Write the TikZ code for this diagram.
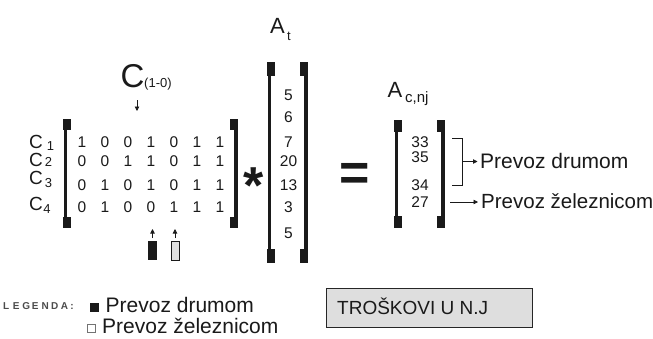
\documentclass[tikz,border=0pt]{standalone}
\usepackage{fontspec}
\setmainfont{Liberation Sans}
\usetikzlibrary{arrows.meta}
\definecolor{ink}{HTML}{1A1A1A}
\newcommand\fsz[1]{\fontsize{#1}{#1}\selectfont}
\newcommand\LBrk[4]{%
  \fill[ink] (#1,#2) rectangle ++(8,#4);
  \fill[ink] (#1,#3) rectangle ++(8,-#4);
  \fill[ink] (#1+0.5,#2) rectangle (#1+4,#3);}
\newcommand\RBrk[4]{%
  \fill[ink] (#1,#2) rectangle ++(-8,#4);
  \fill[ink] (#1,#3) rectangle ++(-8,-#4);
  \fill[ink] (#1-0.5,#2) rectangle (#1-4,#3);}
\newcommand\lsp[1]{\makebox[9.6pt][l]{#1}}
\begin{document}
\begin{tikzpicture}[x=1pt,y=-1pt,
  lbl/.style={inner sep=0pt, text=ink},
  num/.style={lbl, font=\fsz{15.5}, anchor=base},
  arr/.style={draw=ink, line width=0.8pt, -{Triangle[length=4.5pt,width=4.5pt]}},
  thinln/.style={draw=ink, line width=0.8pt},
  colmark/.style={inner sep=0pt, minimum width=9pt, minimum height=19pt, anchor=north},
]
\useasboundingbox[fill=white] (0,0) rectangle (653,338);

% ---- C(1-0) ----
\node[lbl, font=\fsz{33}, anchor=base] (cbig) at (132.5,87) {C};
\node[lbl, font=\fsz{13}, anchor=base west] (csub) at (144,87.5) {(1-0)};
\coordinate (ctop) at (137,100);
\coordinate (cbot) at (137,111);
\draw[arr] (ctop) -- (cbot);

% ---- row labels ----
\node[lbl, font=\fsz{19}, anchor=base west] (r1) at (29,148.8) {C\hspace{4pt}\raisebox{-2pt}{\fsz{13}1}};
\node[lbl, font=\fsz{19}, anchor=base west] (r2) at (29,166.8) {C\hspace{2pt}\raisebox{0pt}{\fsz{13}2}};
\node[lbl, font=\fsz{19}, anchor=base west] (r3) at (29,184.8) {C\hspace{2pt}\raisebox{-3pt}{\fsz{13}3}};
\node[lbl, font=\fsz{19}, anchor=base west] (r4) at (29,210.8) {C\hspace{0.5pt}\raisebox{-3pt}{\fsz{13}4}};

% ---- matrix C ----
\foreach \yy/\vals [count=\i] in {142/{1,0,0,1,0,1,1},161/{0,0,1,1,0,1,1},185/{0,1,0,1,0,1,1},207/{0,1,0,0,1,1,1}}{
  \foreach \v [count=\j] in \vals {
    \node[num] (m\i\j) at ({82+23*(\j-1)},\yy+5.5) {\v};
  }
}
\LBrk{63}{119}{228}{11}
\RBrk{238}{119}{228}{11}

% markers under the matrix
\node[colmark, fill=ink] (mk1) at (152.5,241) {};
\node[colmark, fill=black!12, draw=ink, line width=0.8pt, minimum width=8pt] (mk2) at (175,241) {};
\draw[arr] ([yshift=3pt]mk1.north) -- ++(0,-9);
\draw[arr] ([yshift=3pt]mk2.north) -- ++(0,-9);

% ---- star ----
\node[lbl, font=\bfseries\fsz{52}, anchor=base] (star) at (254,203) {*};

% ---- A_t ----
\node[lbl, font=\fsz{22}, anchor=base] (at) at (277.5,33) {A};
\node[lbl, font=\fsz{13}, anchor=base west] (atsub) at (287,40) {t};
\foreach \yy/\v [count=\k] in {95/5,117/6,142/7,161/20,185/13,207/3,233/5}{
  \node[num] (a\k) at (288.5,\yy+5.5) {\v};
}
\LBrk{267}{62}{263}{14}
\RBrk{308}{62}{263}{14}

% ---- equals ----
\node[lbl, font=\bfseries\fsz{52}, anchor=base] (eq) at (355,190.7) {=};

% ---- A_c,nj ----
\node[lbl, font=\fsz{22}, anchor=base] (acn) at (395,97) {A};
\node[lbl, font=\fsz{15}, anchor=base west] (acnsub) at (405,102) {c,nj};
\foreach \yy/\v [count=\k] in {142/33,157/35,185/34,202/27}{
  \node[num] (c\k) at (420,\yy+5.5) {\v};
}
\LBrk{394}{120}{228}{12}
\RBrk{445}{120}{228}{12}

% ---- right annotations ----
\node[lbl, font=\fsz{21}, anchor=base west] (pd) at (480,168) {Prevoz drumom};
\node[lbl, font=\fsz{20.5}, anchor=base west] (pz) at (481,208) {Prevoz železnicom};
\draw[thinln] (452,138) -- (462,138) -- (462,185) -- (452,185);
\coordinate (brmid) at (462,161.5);
\coordinate (c4e) at (450,202);
\draw[arr, shorten >=2.5pt] (brmid) -- (pd.west |- brmid);
\draw[arr, shorten >=3pt] (c4e) -- (pz.west |- c4e);

% ---- legend ----
\node[lbl, font=\bfseries\fsz{10}, text=black!70, anchor=base west] (leg) at (3,309) {\lsp{L}\lsp{E}\lsp{G}\lsp{E}\lsp{N}\lsp{D}\lsp{A}\lsp{:}};
\node[inner sep=0pt, fill=ink, minimum size=9pt] (sq1) at (94,307.5) {};
\node[lbl, font=\fsz{21}, anchor=base west] (lg1) at (105.5,312) {Prevoz drumom};
\node[inner sep=0pt, draw=black!55, line width=0.8pt, minimum size=8.5pt] (sq2) at (91.5,328.5) {};
\node[lbl, font=\fsz{21}, anchor=base west] (lg2) at (102,333) {Prevoz železnicom};

% ---- cost box ----
\node[draw=black!85, fill=black!13, line width=1pt, minimum width=206pt, minimum height=39pt, inner sep=0pt, anchor=north west] (tros) at (326,288) {};
\node[lbl, font=\fsz{19}, anchor=base west] (trost) at (337,314.8) {TROŠKOVI U N.J};
\end{tikzpicture}
\end{document}
